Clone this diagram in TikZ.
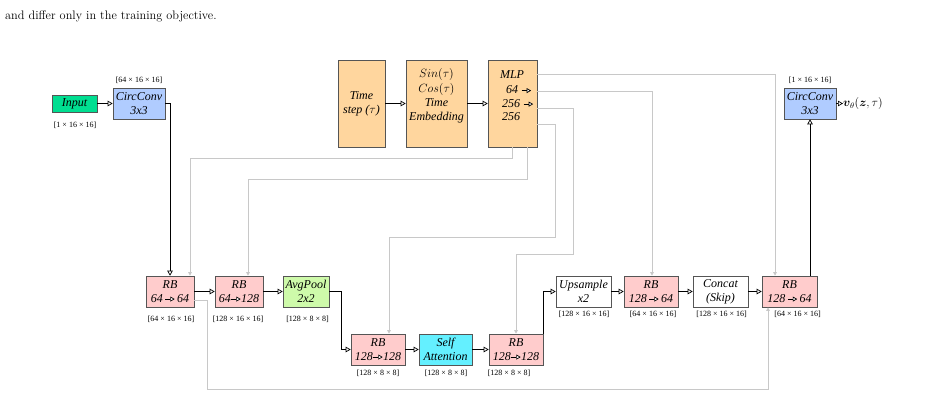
\documentclass[tikz,border=0pt]{standalone}
\usepackage{fontspec}
\usepackage{bm}
\usetikzlibrary{arrows.meta}
\newfontfamily\tms{Liberation Serif}
\definecolor{inpgreen}{RGB}{0,222,145}
\definecolor{ccblue}{RGB}{176,204,255}
\definecolor{orng}{RGB}{255,214,158}
\definecolor{rbpink}{RGB}{255,204,204}
\definecolor{poolgreen}{RGB}{206,250,170}
\definecolor{sacyan}{RGB}{100,240,255}
\definecolor{edgegray}{RGB}{85,85,85}
\definecolor{conngray}{RGB}{200,200,200}
\newcommand{\rar}{\tikz[baseline=-0.6ex]\draw[black,line width=0.9pt,-{Triangle[open,fill=white,length=4.5pt,width=5pt,line width=0.7pt]}] (0pt,0pt)--(9.5pt,0pt);}
\begin{document}
\begin{tikzpicture}[x=1pt,y=-1pt,
  box/.style={draw=edgegray, line width=0.6pt, inner sep=0pt, align=center,
    font=\tms\itshape\fontsize{12}{14}\selectfont},
  txt/.style={inner sep=0pt, align=center, font=\tms\itshape\fontsize{12}{14.4}\selectfont},
  lbl/.style={inner sep=0pt, font=\tms\fontsize{8}{9}\selectfont},
  rbbox/.style={box, fill=rbpink, minimum height=31pt},
  blk/.style={draw=black, line width=1pt, -{Triangle[open,fill=white,length=5pt,width=5.5pt,line width=0.7pt]}},
  gry/.style={draw=conngray, line width=1pt, -{Triangle[length=3.5pt,width=3.5pt]}}]
\useasboundingbox (0,0) rectangle (941,415);

\node[anchor=base west, inner sep=0pt, font=\fontsize{12.3}{14}\selectfont] (caption) at (5,19) {and differ only in the training objective.};

% top-left
\node[box, fill=inpgreen, minimum width=45pt, minimum height=17pt] (input) at (74.5,103.5) {Input};
\node[lbl] (inputlbl) at (75,125) {[1 × 16 × 16]};
\node[box, fill=ccblue, minimum width=52pt, minimum height=31pt] (cc1) at (139,103.5) {CircConv\\3x3};
\node[lbl] (cc1lbl) at (139,80) {[64 × 16 × 16]};

% time embedding
\node[box, fill=orng, minimum width=47pt, minimum height=87pt] (ts) at (361.5,103.5) {Time\\step ($\tau$)};
\node[box, fill=orng, minimum width=61pt, minimum height=87pt] (emb) at (436.5,103.5) {};
\node[txt] (embtxt) at (436.5,96) {$Sin(\tau)$\\$Cos(\tau)$\\Time\\Embedding};
\node[box, fill=orng, minimum width=49pt, minimum height=87pt] (mlp) at (512.5,103.5) {};
\node[txt] (mlp1) at (512,75) {MLP};
\node[txt, anchor=west] (mlp2) at (506,90) {64 \rar};
\node[txt, anchor=west] (mlp3) at (502,103.5) {256 \rar};
\node[txt, anchor=west] (mlp4) at (502,117) {256};

% output
\node[box, fill=ccblue, minimum width=52pt, minimum height=31pt] (cc2) at (810,103.5) {CircConv\\3x3};
\node[lbl] (cc2lbl) at (810,80) {[1 × 16 × 16]};
\node[anchor=west, inner sep=0pt, font=\fontsize{12}{14}\selectfont] (vout) at (843,103.5) {$\bm{v}_\theta(\bm{z},\tau)$};

% down path
\node[rbbox, minimum width=48pt] (rb1) at (170,291.5) {RB\\64\,\rar\,64};
\node[lbl] (rb1lbl) at (171,319) {[64 × 16 × 16]};
\node[rbbox, minimum width=48pt] (rb2) at (239,291.5) {RB\\64\rar128};
\node[lbl] (rb2lbl) at (238,319) {[128 × 16 × 16]};
\node[box, fill=poolgreen, minimum width=46pt, minimum height=31pt] (pool) at (306,291.5) {AvgPool\\2x2};
\node[lbl] (poollbl) at (307.5,319) {[128 × 8 × 8]};

% bottleneck
\node[rbbox, minimum width=54pt] (rba) at (378,349.5) {RB\\128\rar128};
\node[lbl] (rbalbl) at (378,373) {[128 × 8 × 8]};
\node[box, fill=sacyan, minimum width=53pt, minimum height=31pt] (sa) at (445.5,349.5) {Self\\Attention};
\node[lbl] (salbl) at (446,373) {[128 × 8 × 8]};
\node[rbbox, minimum width=54pt] (rbb) at (516,349.5) {RB\\128\rar128};
\node[lbl] (rbblbl) at (509,373) {[128 × 8 × 8]};

% up path
\node[box, fill=white, minimum width=55pt, minimum height=31pt] (up) at (583.5,291.5) {Upsample\\x2};
\node[lbl] (uplbl) at (584,314) {[128 × 16 × 16]};
\node[rbbox, minimum width=54pt] (rb3) at (651,291.5) {RB\\128\,\rar\,64};
\node[lbl] (rb3lbl) at (653,314) {[64 × 16 × 16]};
\node[box, fill=white, minimum width=55pt, minimum height=31pt] (cat) at (720.5,291.5) {Concat\\(Skip)};
\node[lbl] (catlbl) at (721.5,314) {[128 × 16 × 16]};
\node[rbbox, minimum width=55pt] (rb4) at (789.5,291.5) {RB\\128\,\rar\,64};
\node[lbl] (rb4lbl) at (797.5,314) {[64 × 16 × 16]};

% black connectors
\draw[blk] (input) -- (cc1);
\draw[blk] (cc1.east) -| (rb1.north);
\draw[blk] (ts) -- (emb);
\draw[blk] (emb) -- (mlp);
\draw[blk] (rb1) -- (rb2);
\draw[blk] (rb2) -- (pool);
\draw[blk] (pool.east) -- ++(12,0) |- (rba.west);
\draw[blk] (rba) -- (sa);
\draw[blk] (sa) -- (rbb);
\draw[blk] (rbb.north east) |- (up.west);
\draw[blk] (up) -- (rb3);
\draw[blk] (rb3) -- (cat);
\draw[blk] (cat) -- (rb4);
\draw[blk] (rb4.north -| cc2.south) -- (cc2.south);
\draw[blk] (cc2) -- (vout);

% gray connectors
\draw[gry] ([xshift=-0.5pt]mlp.south) -- ++(0,11) -| ([xshift=20pt]rb1.north);
\draw[gry] ([xshift=14.5pt]mlp.south) -- ++(0,32) -| ([xshift=9pt]rb2.north);
\draw[gry] ([yshift=-20.5pt]mlp.east) -- ++(18,0) -- ++(0,113) -| ([xshift=11pt]rba.north);
\draw[gry] ([yshift=-4.5pt]mlp.east) -- ++(36,0) -- ++(0,146) -| (rbb.north);
\draw[gry] ([yshift=12.5pt]mlp.east) -| ([xshift=1pt]rb3.north);
\draw[gry] ([yshift=29.5pt]mlp.east) -| ([xshift=-14.5pt]rb4.north);
\draw[gry] ([yshift=-8.5pt]rb1.east) -- ++(13,0) -- ++(0,89) -| ([xshift=-21.5pt]rb4.south);
\end{tikzpicture}
\end{document}
